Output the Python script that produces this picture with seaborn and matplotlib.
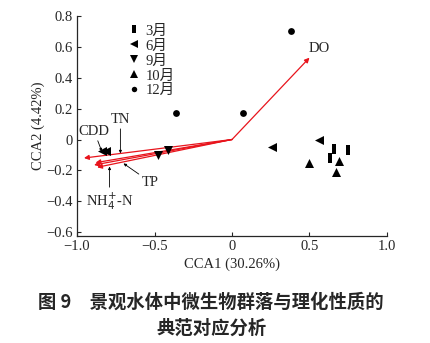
import matplotlib
matplotlib.use("Agg")
import matplotlib.pyplot as plt
import seaborn as sns
import pandas as pd
import numpy as np
from matplotlib.lines import Line2D
from matplotlib.path import Path

# ---- data ----
months = ["3月", "6月", "9月", "10月", "12月"]
x_3 = [0.66, 0.75, 0.63]
y_3 = [-0.06, -0.07, -0.12]
x_6 = [0.26, 0.56, -0.84, -0.81]
y_6 = [-0.05, 0.00, -0.075, -0.075]
x_9 = [-0.48, -0.41]
y_9 = [-0.10, -0.065]
x_10 = [0.50, 0.69, 0.67]
y_10 = [-0.15, -0.14, -0.21]
x_12 = [0.38, -0.36, 0.07]
y_12 = [0.70, 0.17, 0.17]

env_names = ["DO", "CDD", "TN", "TP", "NH4"]
env_x = [0.50, -0.955, -0.88, -0.89, -0.87]
env_y = [0.53, -0.12, -0.15, -0.165, -0.18]

xticks = [-1.0, -0.5, 0, 0.5, 1.0]
xticklabels = ["\u22121.0", "\u22120.5", "0", "0.5", "1.0"]
yticks = [-0.6, -0.4, -0.2, 0, 0.2, 0.4, 0.6, 0.8]
yticklabels = ["\u22120.6", "\u22120.4", "\u22120.2", "0", "0.2", "0.4", "0.6", "0.8"]

rows = []
for m, xs, ys in zip(months, [x_3, x_6, x_9, x_10, x_12], [y_3, y_6, y_9, y_10, y_12]):
    for a, b in zip(xs, ys):
        rows.append({"month": m, "x": a, "y": b})
df = pd.DataFrame(rows)

# ---- style ----
sns.set_style("ticks")
serif = ["Liberation Serif", "Noto Sans CJK SC"]
plt.rcParams["font.family"] = serif
plt.rcParams["axes.unicode_minus"] = True

rect = Path([(-0.45, -1), (0.45, -1), (0.45, 1), (-0.45, 1), (-0.45, -1)],
            [Path.MOVETO, Path.LINETO, Path.LINETO, Path.LINETO, Path.CLOSEPOLY])
markers = {"3月": rect, "6月": "<", "9月": "v", "10月": "^", "12月": "o"}
sizes = {"3月": 60, "6月": 42, "9月": 42, "10月": 42, "12月": 24}

fig = plt.figure(figsize=(4.3, 3.43), dpi=100)
ax = fig.add_axes([77/430, 1-236/343, (387-77)/430, (236-16)/343])

red = "#e8141c"
for n, ex, ey in zip(env_names, env_x, env_y):
    ax.annotate("", xy=(ex, ey), xytext=(0, 0),
                arrowprops=dict(arrowstyle="-|>", color=red, lw=0.9,
                                mutation_scale=7, shrinkA=0, shrinkB=0))

for m in months:
    sub = df[df["month"] == m]
    sns.scatterplot(data=sub, x="x", y="y", marker=markers[m], s=sizes[m],
                    color="black", edgecolor="black", linewidth=0, ax=ax,
                    legend=False, zorder=3)

fs = 10.5
ax.text(0.56, 0.59, "DO", fontsize=fs, ha="center", va="center")
ap = dict(arrowstyle="-|>", color="black", lw=0.6, mutation_scale=4, shrinkA=0, shrinkB=0)
ax.annotate("CDD", xy=(-0.84, -0.077), xytext=(-0.89, 0.013), fontsize=fs,
            ha="center", va="bottom", arrowprops=ap)
ax.annotate("TN", xy=(-0.72, -0.09), xytext=(-0.72, 0.09), fontsize=fs,
            ha="center", va="bottom", arrowprops=ap)
ax.annotate("TP", xy=(-0.70, -0.155), xytext=(-0.58, -0.235), fontsize=fs,
            ha="left", va="top", arrowprops=ap)
ax.annotate(r"NH$_4^{+}$-N", xy=(-0.79, -0.175), xytext=(-0.79, -0.33), fontsize=fs,
            ha="center", va="top", arrowprops=ap)

ax.set_xlim(-1.0, 1.0)
ax.set_ylim(-0.625, 0.8)
ax.set_xticks(xticks)
ax.set_xticklabels(xticklabels)
ax.set_yticks(yticks)
ax.set_yticklabels(yticklabels)
ax.tick_params(direction="in", length=3, width=0.8, labelsize=fs, pad=3)
for s in ["top", "right"]:
    ax.spines[s].set_visible(False)
for s in ["left", "bottom"]:
    ax.spines[s].set_linewidth(0.9)
ax.set_xlabel("CCA1 (30.26%)", fontsize=fs, labelpad=3)
ax.set_ylabel("CCA2 (4.42%)", fontsize=fs, labelpad=1)

handles = [Line2D([], [], marker=markers[m], color="black", linestyle="none",
                  markersize=np.sqrt(sizes[m]) * 0.8, markeredgewidth=0) for m in months]
leg = ax.legend(handles, months, loc="upper left", bbox_to_anchor=(0.16, 0.962),
                frameon=False, fontsize=fs, handletextpad=0.3, labelspacing=0.12,
                handlelength=1.0, borderaxespad=0, borderpad=0)
for t in leg.get_texts():
    t.set_fontfamily(serif)

cap = ["Noto Sans CJK SC", "DejaVu Sans"]
fig.text(0.49, 1-302/343, "图 9　景观水体中微生物群落与理化性质的", fontsize=13.2,
         fontweight="bold", ha="center", va="center", family=cap)
fig.text(0.493, 1-328/343, "典范对应分析", fontsize=13.2,
         fontweight="bold", ha="center", va="center", family=cap)

fig.savefig("out.png", dpi=100)
